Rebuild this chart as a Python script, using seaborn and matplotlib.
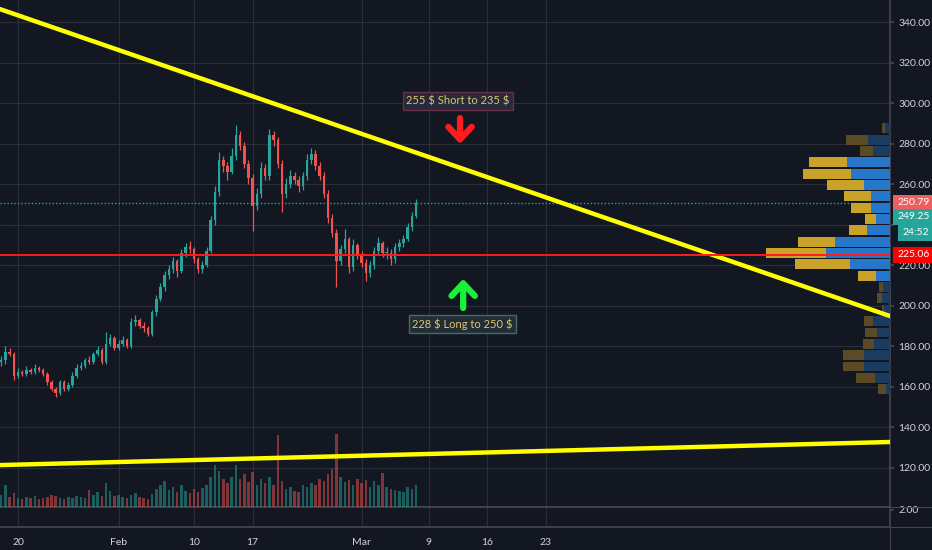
import numpy as np
import pandas as pd
import matplotlib
matplotlib.use("Agg")
import matplotlib.pyplot as plt
import matplotlib.dates as mdates
from matplotlib.lines import Line2D
from matplotlib.transforms import blended_transform_factory
import seaborn as sns

# 12h candles, Jan 18 - Mar 7 2020 (open = previous close)
first_open = 172
closes = [173, 177, 176, 165, 167, 166, 168, 167, 169, 168,
          166, 162, 159, 157, 162, 159, 161, 165, 169, 170,
          173, 172, 176, 178, 172, 181, 184, 179, 181, 183,
          180, 192, 193, 190, 189, 186, 197, 203, 209, 215,
          218, 222, 217, 226, 229, 228, 223, 218, 220, 227,
          242, 256, 272, 269, 266, 274, 284, 279, 270, 263,
          249, 255, 268, 264, 284, 282, 270, 255, 260, 264,
          262, 259, 264, 272, 275, 269, 264, 255, 243, 236,
          222, 228, 233, 219, 230, 225, 221, 216, 220, 227,
          231, 226, 226, 223, 229, 231, 233, 239, 244, 250.8]
highs = [175, 180, 179, 177, 169, 168, 170, 169, 171, 170,
         169, 167, 163, 160, 163, 163, 162, 167, 171, 172,
         174, 175, 177, 180, 179, 187, 186, 185, 183, 185,
         184, 194, 195.5, 194, 192, 190, 198, 205, 211, 217,
         220, 224, 223, 228, 231, 232, 229, 224, 222, 229,
         244, 259, 276, 274, 271, 278, 289, 286, 281, 272,
         265, 258, 271, 270, 287, 286, 283, 272, 263, 267,
         266, 264, 266, 275, 278, 277, 271, 266, 257, 245,
         238, 230, 238, 234, 233, 231, 227, 223, 222, 229,
         234, 232, 229, 228, 231, 233, 235, 241, 246, 252.5]
lows = [170, 171, 175, 163, 164, 165, 165, 166, 166, 167,
        165, 161, 158, 155, 156, 158, 158, 160, 164, 168,
        169, 171, 171, 175, 171, 171, 180, 178, 178, 180,
        179, 179, 190, 189, 187, 185, 185, 195, 202, 207,
        213, 216, 214, 216, 224, 226, 221, 216, 216, 219,
        226, 240, 254, 266, 262, 265, 272, 277, 268, 260,
        237, 247, 253, 262, 262, 279, 268, 246, 253, 258,
        260, 256, 257, 262, 270, 267, 262, 253, 241, 234,
        209, 220, 226, 216, 217, 223, 219, 212, 214, 218,
        225, 224, 223, 220, 221, 227, 229, 232, 237, 243]
volumes = [12, 22, 10, 14, 9, 8, 10, 9, 11, 8,
           9, 10, 12, 11, 9, 8, 10, 9, 11, 10,
           9, 17, 12, 15, 11, 24, 16, 11, 12, 10,
           9, 12, 14, 10, 9, 8, 13, 18, 22, 26,
           17, 20, 15, 22, 16, 14, 18, 15, 19, 22,
           30, 42, 36, 28, 24, 30, 42, 28, 33, 25,
           35, 22, 28, 24, 30, 22, 72, 26, 18, 20,
           16, 15, 22, 20, 24, 22, 28, 26, 33, 38,
           73, 30, 25, 27, 22, 28, 24, 27, 20, 26,
           22, 34, 20, 18, 17, 16, 15, 20, 18, 22]

price_ticks = [120, 140, 160, 180, 200, 220, 240, 260, 280, 300, 320, 340]
date_ticks = ["2020-01-20", "2020-02-01", "2020-02-10", "2020-02-17",
              "2020-03-01", "2020-03-09", "2020-03-16", "2020-03-23"]
date_labels = ["20", "Feb", "10", "17", "Mar", "9", "16", "23"]

# volume profile rows, top row first
vp_prices = [287.5, 281.9, 276.3, 270.7, 265.1, 259.5, 253.9, 248.3, 242.7, 237.1, 231.5, 225.9,
             220.3, 214.7, 209.1, 203.5, 197.9, 192.3, 186.7, 181.1, 175.5, 169.9, 164.3, 158.7]
vp_up = [5, 22, 17, 43, 39, 26, 19, 19, 14, 23, 55, 64, 40, 14, 7, 8, 6, 17, 13, 16, 26, 26, 15, 4]
vp_down = [3, 22, 13, 38, 48, 37, 27, 20, 11, 18, 37, 60, 55, 18, 4, 5, 2, 9, 12, 11, 21, 21, 19, 8]
vp_in_value_area = [False] * 3 + [True] * 11 + [False] * 10

trend_dates = ["2020-01-17 20:27", "2020-05-03 01:26"]
trend_down = [346.4, 194.8]
trend_up = [121.2, 132.6]

support = 225.06
last_price = 250.79
prev_close = 249.25
countdown = "24:52"

BG = "#131722"
GRID = "#2a2e39"
AXIS = "#434651"
TXT = "#d1d4dc"
UP = "#26a69a"
DOWN = "#ef5350"

sns.set_theme(style="dark", rc={"axes.facecolor": BG, "figure.facecolor": BG,
                                "axes.edgecolor": AXIS, "text.color": TXT,
                                "xtick.color": TXT, "ytick.color": TXT})
plt.rcParams["font.family"] = ["Lato", "DejaVu Sans"]

fig = plt.figure(figsize=(9.32, 5.5), dpi=100)
ax = fig.add_axes([0, 43 / 550, 890 / 932, 507 / 550])
ax2 = fig.add_axes([0, 23 / 550, 890 / 932, 20 / 550], sharex=ax)
ax2.set_facecolor(BG)

tick_nums = mdates.date2num(pd.to_datetime(date_ticks))
xlim = mdates.date2num(pd.to_datetime(trend_dates))

# candles
t = mdates.date2num(pd.date_range("2020-01-18", periods=len(closes), freq="12h"))
c = np.array(closes, dtype=float)
o = np.array([first_open] + closes[:-1], dtype=float)
col = np.where(c >= o, UP, DOWN)
ax.vlines(t, lows, highs, colors=col, lw=0.9, zorder=3)
ax.bar(t, np.maximum(np.abs(c - o), 0.6), bottom=np.minimum(o, c), width=0.3,
       color=col, linewidth=0, zorder=3)
ax.axhline(last_price, color=UP, lw=1.0, ls=(0, (1, 1.5)), zorder=2)

ax.set_xticks(tick_nums)
ax.set_yticks(price_ticks)
ax.grid(True, color=GRID, lw=0.8)
ax.set_axisbelow(True)

# volume
ax_v = ax.twinx()
ax_v.bar(t, volumes, width=0.3, color=col, alpha=0.5, linewidth=0)
ax_v.set_ylim(0, max(volumes) * 6.9)
ax_v.yaxis.set_visible(False)

# volume profile
ax_vp = ax.twiny()
blue = ["#2677c9" if v else "#1c3b60" for v in vp_in_value_area]
gold = ["#c9a22a" if v else "#5a4b26" for v in vp_in_value_area]
ax_vp.barh(vp_prices, vp_up, height=4.9, color=blue, linewidth=0)
ax_vp.barh(vp_prices, vp_down, left=vp_up, height=4.9, color=gold, linewidth=0)
ax_vp.set_xlim(890, 0)
ax_vp.xaxis.set_visible(False)

for a in (ax_v, ax_vp):
    for s in a.spines.values():
        s.set_visible(False)

# overlay: trend lines, support, annotations
ax_ov = fig.add_axes(ax.get_position(), sharex=ax, sharey=ax)
ax_ov.set_axis_off()
sns.lineplot(x=xlim, y=trend_down, ax=ax_ov, color="#ffff00", lw=3.2)
sns.lineplot(x=xlim, y=trend_up, ax=ax_ov, color="#ffff00", lw=3.2)
ax_ov.axhline(support, color="#ff1a1a", lw=1.4)

d = lambda s: mdates.date2num(pd.Timestamp(s))
ax_ov.text(d("2020-03-12 12:00"), 301, "255 $ Short to 235 $", ha="center", va="center",
           fontsize=8, color="#dcc86e", parse_math=False,
           bbox=dict(boxstyle="square,pad=0.3", fc="#262a3b", ec="#6e2d46", lw=1))
ax_ov.text(d("2020-03-13 00:00"), 190.9, "228 $ Long to 250 $", ha="center", va="center",
           fontsize=8, color="#dcc86e", parse_math=False,
           bbox=dict(boxstyle="square,pad=0.3", fc="#232d38", ec="#3d6e5f", lw=1))
ax_ov.annotate("", xy=(d("2020-03-12 18:00"), 279.8), xytext=(d("2020-03-12 18:00"), 292.6),
               arrowprops=dict(arrowstyle="->,head_length=0.45,head_width=0.42", lw=4.5,
                               color="#ff1c1c", mutation_scale=20, shrinkA=0, shrinkB=0))
ax_ov.annotate("", xy=(d("2020-03-13 03:00"), 213.2), xytext=(d("2020-03-13 03:00"), 198.8),
               arrowprops=dict(arrowstyle="->,head_length=0.45,head_width=0.42", lw=4.5,
                               color="#16f23a", mutation_scale=20, shrinkA=0, shrinkB=0))

# price scale labels
tr = blended_transform_factory(ax.transAxes, ax.transData)
for text, price, dx, dy, fc in [(f"{last_price:.2f}", last_price, 7, 0, "#ef5f5f"),
                                (f"{prev_close:.2f}", prev_close, 7, -11, UP),
                                (countdown, prev_close, 12, -27, UP),
                                (f"{support:.2f}", support, 7, 0, "#ff0000")]:
    ax_ov.annotate(text, xy=(1, price), xycoords=tr, xytext=(dx, dy),
                   textcoords="offset pixels", ha="left", va="center", fontsize=7.5,
                   color="white", annotation_clip=False,
                   bbox=dict(boxstyle="square,pad=0.35", fc=fc, ec="none"))

ax.set_xlim(*xlim)
ax.set_ylim(100.5, 350.9)

ax.yaxis.tick_right()
ax.set_yticklabels([f"{v:.2f}" for v in price_ticks])
ax.tick_params(axis="y", length=3, color=AXIS, labelsize=7.5, pad=3, labelcolor=TXT,
               left=False, labelleft=False, right=True, labelright=True)
ax.tick_params(axis="x", length=0, labelbottom=False)
for s in ("left", "top"):
    ax.spines[s].set_visible(False)
ax.spines["right"].set_color(AXIS)
ax.spines["bottom"].set_color(AXIS)

ax2.set_ylim(0, 2.35)
ax2.set_yticks([2])
ax2.set_yticklabels(["2.00"])
ax2.yaxis.tick_right()
ax2.tick_params(axis="y", length=3, color=AXIS, labelsize=7.5, pad=3, labelcolor=TXT)
ax2.set_xticks(tick_nums)
ax2.set_xticklabels(date_labels)
ax2.tick_params(axis="x", length=0, pad=8, labelsize=7.5, labelcolor=TXT)
ax2.grid(True, axis="x", color=GRID, lw=0.8)
ax2.spines["left"].set_visible(False)
for s in ("right", "top", "bottom"):
    ax2.spines[s].set_color(AXIS)

for y in (43 / 550, 23 / 550):
    fig.add_artist(Line2D([890 / 932, 1], [y, y], transform=fig.transFigure, color=AXIS, lw=0.8))
fig.add_artist(Line2D([890 / 932, 890 / 932], [0, 23 / 550], transform=fig.transFigure,
                      color=AXIS, lw=0.8))

fig.savefig("out.png", dpi=100, facecolor=BG)
